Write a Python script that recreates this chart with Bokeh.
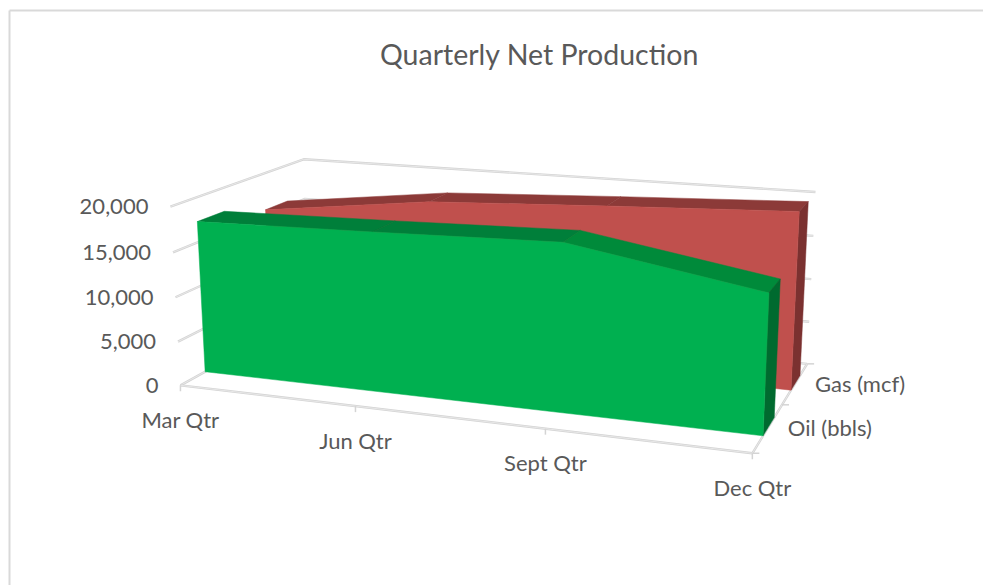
import numpy as np
from bokeh.plotting import figure
from bokeh.embed import file_html
from bokeh.resources import INLINE
from bokeh.core.properties import value
from bokeh.models import Range1d

TITLE = "Quarterly Net Production"
CATEGORIES = ["Mar Qtr", "Jun Qtr", "Sept Qtr", "Dec Qtr"]
SERIES_NAMES = ["Oil (bbls)", "Gas (mcf)"]
OIL = [17300, 17700, 18200, 14750]
GAS = [15600, 18000, 18950, 19800]
VALUE_TICKS = [0, 5000, 10000, 15000, 20000]
VMAX = 20000

# camera: box corners (category, depth, value) seen on the page
CORN = [((0,0,0),(180,385)),((0,0,1),(170,205.7)),((1,0,0),(751.7,453)),((1,1,0),(806.7,363)),
        ((1,1,1),(815,191.7)),((0,1,1),(303,159))]
A=[]
for (t,d,v),(x,y) in CORN:
    A.append([t,d,v,1,0,0,0,0,-x*t,-x*d,-x*v,-x])
    A.append([0,0,0,0,t,d,v,1,-y*t,-y*d,-y*v,-y])
P=np.linalg.svd(np.array(A,float))[2][-1].reshape(3,4)
def proj(t,d,v):
    h=P@np.array([t,d,v,1.0]); return float(h[0]/h[2]),float(h[1]/h[2])

W,H=983,585
p=figure(width=W,height=H,output_backend="svg",toolbar_location=None,
         x_range=Range1d(0,W),y_range=Range1d(H,0),
         min_border=0,outline_line_color=None,background_fill_color="white",border_fill_color="white")
p.axis.visible=False
p.grid.visible=False

GRID="#D4D4D4"
def gline(pts):
    xs,ys=zip(*pts)
    p.line(xs,ys,line_color=GRID,line_width=2.4)
    p.line(xs,ys,line_color="#EFEFEF",line_width=0.7)

# chart frame
p.line([9,983],[10,10],line_color="#D9D9D9",line_width=2)
p.line([9,9],[10,585],line_color="#D9D9D9",line_width=2)

# walls and floor
for tv in VALUE_TICKS:
    v=tv/VMAX
    gline([proj(0,0,v),proj(0,1,v),proj(1,1,v)])
gline([proj(0,0,0),proj(1,0,0),proj(1,1,0)])
nc=len(CATEGORIES)
for i in range(nc):
    x,y=proj(i/(nc-1),0,0)
    p.line([x,x],[y,y+6],line_color=GRID,line_width=1.5)
for d in (0,.5,1):
    x,y=proj(1,d,0)
    p.line([x,x+7],[y,y],line_color=GRID,line_width=1.5)

def band(vals,d0,d1,face,tops,side):
    ts=[i/(nc-1) for i in range(nc)]
    vs=[v/VMAX for v in vals]
    for i in range(nc-1):
        q=[proj(ts[i],d0,vs[i]),proj(ts[i+1],d0,vs[i+1]),proj(ts[i+1],d1,vs[i+1]),proj(ts[i],d1,vs[i])]
        xs,ys=zip(*q)
        p.patch(xs,ys,fill_color=tops[i],line_color=tops[i],line_width=0.5)
    q=[proj(1,d0,vs[-1]),proj(1,d1,vs[-1]),proj(1,d1,0),proj(1,d0,0)]
    xs,ys=zip(*q)
    p.patch(xs,ys,fill_color=side,line_color=side,line_width=0.5)
    q=[proj(0,d0,0)]+[proj(t,d0,v) for t,v in zip(ts,vs)]+[proj(1,d0,0)]
    xs,ys=zip(*q)
    p.patch(xs,ys,fill_color=face,line_color=face,line_width=0.5)

band(GAS,.67,.85,"#C0504D",["#8C3A38","#8C3A38","#8C3A38"],"#7B3130")
band(OIL,.17,.36,"#00B050",["#007F3A","#007F3A","#008A3A"],"#006A2F")

FONT=value("Lato")
TXT="#595959"
def label(x,y,s,size,align="center"):
    p.text([x],[y],text=[s],text_font=FONT,text_font_size=size,text_color=TXT,
           text_align=align,text_baseline="middle")
label(539,53,TITLE,"28.5px")
for tv in VALUE_TICKS:
    x,y=proj(0,0,tv/VMAX)
    label(x-22,y,f"{tv:,}","22px","right")
for i,c in enumerate(CATEGORIES):
    x,y=proj(i/(nc-1),0,0)
    label(x,y+34,c,"22px")
for name,d in zip(SERIES_NAMES,(.25,.75)):
    x,y=proj(1,d,0)
    label(x+20,y,name,"22px","left")

open("out.html","w").write(file_html(p,INLINE))
